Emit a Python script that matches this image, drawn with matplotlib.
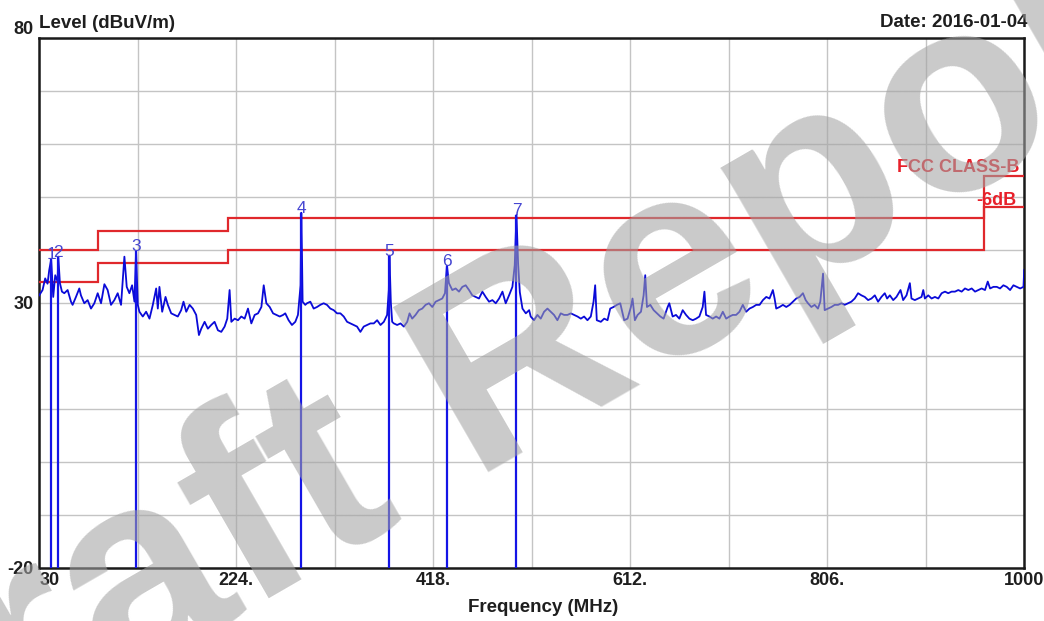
import numpy as np
import matplotlib
matplotlib.use("Agg")
import matplotlib.pyplot as plt

# ---------------- data ----------------
trace_freq_a = [30.0, 33.3, 35.9, 38.2, 39.9, 41.8, 43.8, 45.8, 48.1, 48.8, 50.4, 52.4, 54.7, 58.0, 61.3, 62.9,
                66.2, 69.5, 71.1, 74.4, 77.7, 81.0, 84.3, 87.6, 90.9, 94.2, 97.4, 100.7, 104.0, 107.3, 110.6,
                113.9, 116.2, 118.8, 121.5, 123.8, 125.4, 127.1, 128.7, 132.0, 135.3, 138.6, 141.9, 145.2,
                146.8, 148.4, 151.1, 154.4, 156.7, 160.0, 163.2, 166.5, 169.8, 172.1, 174.8, 178.1, 181.3,
                184.6, 187.3, 189.6, 192.9, 196.1, 199.4, 202.7, 206.0, 209.3, 212.6, 215.2, 217.5, 219.2,
                222.5, 225.8, 229.0, 232.3, 235.6, 238.9, 242.2, 245.5, 248.8, 251.1, 253.7, 257.0, 260.3,
                263.6, 266.9, 270.2]
trace_level_a = [31.4, 32.4, 34.6, 33.6, 36.2, 38.2, 31.1, 35.2, 34.0, 38.7, 33.7, 32.1, 31.8, 32.4, 30.2, 29.6,
                 31.1, 32.7, 31.4, 29.9, 30.5, 28.9, 29.9, 31.8, 29.9, 33.5, 32.4, 29.6, 30.5, 31.8, 29.6,
                 38.7, 33.0, 31.8, 33.3, 30.2, 39.8, 29.6, 28.3, 27.4, 28.3, 27.0, 29.6, 32.7,
                 28.9, 33.0, 28.3, 31.1, 29.6, 28.0, 27.7, 27.4, 28.6, 30.2, 28.3, 29.6, 28.9,
                 27.7, 23.9, 25.1, 26.4, 25.1, 25.8, 26.4, 24.8, 24.5, 25.5, 27.0, 32.4, 26.4,
                 27.0, 26.7, 27.4, 27.0, 28.9, 26.1, 27.7, 28.0, 29.2, 33.3, 29.9, 29.2, 28.0,
                 27.7, 27.4, 27.7]

trace_freq_b = [272.3, 275.6, 278.9, 282.2, 284.8, 287.4, 288.1, 288.8, 289.4, 292.0, 293.7, 297.0, 300.3,
                303.6, 306.8, 310.1, 313.4, 316.7, 320.0, 323.3, 326.6, 329.9, 333.2, 336.5, 339.7, 343.0,
                346.3, 349.6, 352.9, 356.2, 359.5, 362.8, 366.1, 369.4, 372.6, 374.3, 374.9, 376.3, 377.6,
                379.2, 382.5, 385.8, 389.1, 392.4, 394.7, 397.3, 400.6, 403.9, 407.2, 410.5, 413.8, 417.1,
                420.4, 423.6, 426.9, 429.6, 431.5, 433.5, 436.8, 440.1, 443.4, 446.7, 450.0, 453.3, 456.5,
                459.8, 463.1, 466.4, 469.7, 473.0, 476.3, 479.6, 482.9, 486.2, 489.4, 492.7, 496.0, 498.3,
                500.0, 501.6, 503.3, 505.9, 509.2, 512.5]
trace_level_b = [28.0, 26.7, 25.8, 26.4, 27.7, 33.3, 47.0, 38.7, 30.2, 29.6, 29.9, 30.2, 28.9,
                 29.2, 29.6, 29.9, 29.6, 28.9, 28.6, 28.0, 28.0, 27.4, 26.4, 26.1, 25.8, 25.5,
                 24.5, 25.5, 25.8, 26.1, 26.1, 26.7, 25.8, 26.4, 27.7, 32.4, 38.9, 30.0, 26.4,
                 26.1, 25.8, 26.1, 25.5, 26.4, 28.0, 27.0, 27.7, 28.6, 28.9, 29.6, 29.9, 29.2,
                 30.2, 30.5, 30.8, 31.8, 37.0, 33.7, 32.4, 32.7, 32.1, 33.0, 33.3, 32.4, 31.4,
                 31.1, 30.8, 32.1, 31.1, 30.2, 30.5, 29.9, 30.8, 32.1, 29.9, 31.4, 33.0, 37.1,
                 46.6, 37.4, 32.0, 28.9, 28.0, 28.6]

trace_freq_c = [514.0, 517.3, 520.6, 523.9, 527.2, 530.5, 533.7, 537.0, 540.3, 543.6, 546.9, 550.2, 553.5,
                556.8, 560.1, 563.4, 566.6, 569.9, 573.2, 575.9, 577.5, 579.1, 583.1, 586.4, 589.7, 592.3,
                595.6, 598.9, 602.2, 603.8, 606.1, 609.4, 612.7, 614.3, 616.6, 619.3, 622.6, 625.2, 626.8,
                628.5, 631.8, 635.1, 638.4, 641.7, 644.9, 648.9, 650.5, 653.8, 657.1, 660.4, 663.7, 667.0,
                670.3, 673.6, 676.9, 680.1, 683.4, 685.1, 686.7, 690.0, 693.3, 696.6, 699.9, 703.2, 706.5,
                709.8, 713.0, 716.3, 719.6, 722.9, 726.2, 729.5, 732.8, 736.1, 739.4, 742.7, 746.0, 749.2,
                752.5, 754.2]
trace_level_c = [27.4, 26.7, 27.7, 27.0, 28.3, 28.9, 28.3, 27.7, 26.7, 28.0, 27.7, 27.7, 28.0,
                 27.7, 27.4, 27.0, 27.4, 26.7, 27.4, 30.2, 33.3, 26.7, 26.4, 27.0, 26.7, 28.9,
                 29.2, 29.6, 29.9, 28.6, 26.7, 27.0, 29.2, 30.8, 26.7, 27.7, 28.3, 31.4, 35.2,
                 29.2, 29.6, 28.6, 28.0, 27.4, 27.0, 29.2, 29.9, 27.4, 27.7, 27.0, 28.6, 27.7,
                 27.0, 26.7, 27.0, 27.4, 29.2, 32.1, 27.7, 27.4, 27.0, 27.4, 27.0, 28.3, 27.0,
                 27.4, 27.7, 27.7, 28.3, 29.6, 28.3, 28.9, 29.2, 29.6, 29.6, 30.5, 31.1, 30.8,
                 32.4, 30.8]

trace_freq_d = [755.8, 759.1, 762.4, 765.7, 769.0, 772.3, 775.5, 778.8, 782.1, 784.8, 787.1, 790.4, 793.6,
                796.9, 799.2, 801.9, 803.5, 806.8, 810.1, 813.4, 816.7, 820.0, 823.2, 826.5, 829.8, 833.1,
                836.4, 839.7, 843.0, 846.3, 849.6, 852.9, 856.1, 859.4, 862.7, 865.0, 867.7, 871.0, 874.2,
                878.2, 880.8, 884.1, 887.4, 889.0, 892.3, 895.6, 898.9, 900.6, 902.2, 905.5, 908.8, 912.1,
                915.4, 918.7, 922.0, 925.2, 928.5, 931.8, 935.1, 938.4, 941.7, 945.0, 948.3, 951.6, 954.8,
                958.1, 961.4, 964.1, 966.4, 969.7, 973.0, 976.2, 979.5, 982.8, 986.1, 989.4, 992.7, 996.0,
                999.3, 1000.0]
trace_level_d = [28.9, 29.2, 29.6, 29.2, 29.6, 30.2, 30.8, 31.1, 31.8, 30.5, 29.9, 29.2, 29.6,
                 28.9, 30.2, 35.5, 28.6, 28.9, 29.2, 29.6, 29.6, 29.9, 29.6, 29.9, 30.2, 30.8,
                 31.8, 31.4, 31.1, 30.5, 30.8, 31.4, 30.2, 31.1, 31.8, 30.8, 31.4, 30.5, 31.1,
                 32.4, 30.5, 31.4, 33.7, 30.8, 30.5, 30.8, 31.1, 32.4, 30.8, 31.4, 30.8, 31.1,
                 30.8, 31.8, 32.1, 31.8, 32.1, 32.1, 32.4, 32.1, 32.7, 32.4, 32.7, 32.1, 32.4,
                 32.7, 32.4, 34.0, 32.7, 33.0, 33.0, 32.7, 33.3, 33.0, 32.4, 33.3, 33.0, 32.7,
                 33.0, 36.2]

limit_edges = [30, 88, 216, 960, 1000]
limit_class_b = [40.0, 43.5, 46.0, 54.0]
limit_minus6 = [34.0, 37.5, 40.0, 48.0]

marker_freq = [41.8, 48.8, 125.4, 288.1, 374.9, 431.5, 500.0]
marker_level = [38.2, 38.7, 39.8, 47.0, 38.9, 37.0, 46.6]
marker_labels = ["1", "2", "3", "4", "5", "6", "7"]

x_ticks = [30, 127, 224, 321, 418, 515, 612, 709, 806, 903, 1000]
x_labels = ["30", "", "224.", "", "418.", "", "612.", "", "806.", "", "1000"]
y_ticks = [-20, -10, 0, 10, 20, 30, 40, 50, 60, 70, 80]
y_labels = ["-20", "", "", "", "", "30", "", "", "", "", "80"]

# ---------------- figure ----------------
FONT = ["Liberation Sans", "DejaVu Sans"]
plt.rcParams["font.family"] = FONT

fig = plt.figure(figsize=(10.44, 6.21), dpi=100)
ax = fig.add_axes([39.2 / 1044, 1 - 567.5 / 621, (1024.2 - 39.2) / 1044, (567.5 - 38) / 621])

ax.set_xlim(30, 1000)
ax.set_ylim(-20, 80)
ax.set_xticks(x_ticks)
ax.set_xticklabels(x_labels)
ax.set_yticks(y_ticks)
ax.set_yticklabels(y_labels)
ax.grid(True, color="#c4c4c4", linewidth=1.0)
ax.set_axisbelow(True)
ax.tick_params(length=0, labelsize=13, labelcolor="#1e1e1e")
ax.tick_params(axis="x", pad=3)
ax.tick_params(axis="y", pad=4)
for lab in ax.get_xticklabels() + ax.get_yticklabels():
    lab.set_fontweight("bold")
xl = ax.get_xticklabels()
xl[0].set_ha("left")
yl = ax.get_yticklabels()
yl[-1].set_va("bottom")
for s in ax.spines.values():
    s.set_linewidth(1.8)
    s.set_color("#1a1a1a")

# limit lines
ax.stairs(limit_class_b, limit_edges, baseline=None, color="#e0282c", linewidth=1.6, zorder=3)
ax.stairs(limit_minus6, limit_edges, baseline=None, color="#e0282c", linewidth=1.6, zorder=3)

# trace
def seg(f, l):
    n = min(len(f), len(l))
    return list(f[:n]), list(l[:n])

fa, la = seg(trace_freq_a, trace_level_a)
fb, lb = seg(trace_freq_b, trace_level_b)
fc, lc = seg(trace_freq_c, trace_level_c)
fd, ld = seg(trace_freq_d, trace_level_d)
ax.plot(fa + fb + fc + fd, la + lb + lc + ld, color="#0a0ad8", linewidth=1.3, zorder=4)

# markers
ax.vlines(marker_freq, -20, marker_level, color="#1414e6", linewidth=1.6, zorder=5)
for f, l, t in zip(marker_freq, marker_level, marker_labels):
    ax.text(f, l, t, ha="center", va="baseline", fontsize=12.5, color="#4646d2", zorder=6)

# limit labels
ax.text(0.9955, 54.6, "FCC CLASS-B", transform=ax.get_yaxis_transform(), ha="right", va="baseline",
        fontsize=13, fontweight="bold", color="#e8202a", zorder=6)
ax.text(0.9925, 48.4, "-6dB", transform=ax.get_yaxis_transform(), ha="right", va="baseline",
        fontsize=13, fontweight="bold", color="#e8202a", zorder=6)

# titles
fig.text(39 / 1044, 1 - 28 / 621, "Level (dBuV/m)", ha="left", va="baseline", fontsize=13.5,
         fontweight="bold", color="#1e1e1e")
fig.text(1028 / 1044, 1 - 27 / 621, "Date: 2016-01-04", ha="right", va="baseline", fontsize=13.5,
         fontweight="bold", color="#1e1e1e")
fig.text(543 / 1044, 1 - 612 / 621, "Frequency (MHz)", ha="center", va="baseline", fontsize=13.5,
         fontweight="bold", color="#1e1e1e")

# watermark
fig.text(546 / 1044, 1 - 439 / 621, "Draft Report", ha="center", va="baseline", rotation=30,
         rotation_mode="anchor", fontsize=199, fontweight="bold", family="Liberation Sans",
         color="#a3a3a3", alpha=0.58, zorder=10)

fig.savefig("out.png", dpi=100)
